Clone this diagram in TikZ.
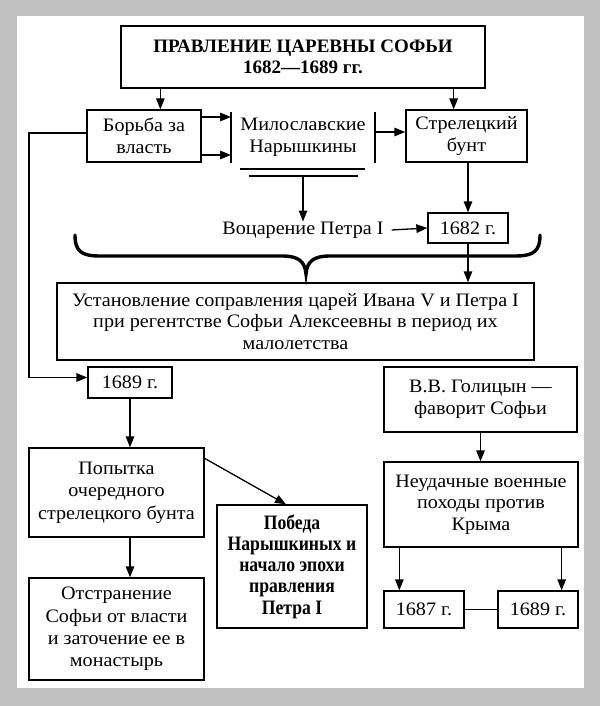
\documentclass[tikz,border=0pt]{standalone}
\usepackage{fontspec}
\setmainfont{Liberation Serif}[UprightFeatures={FakeStretch=1.06}]
\newfontfamily\condfam{Liberation Serif}[FakeStretch=0.86]
\usetikzlibrary{arrows.meta}
\definecolor{bgray}{RGB}{192,192,192}
\newcommand\fsz{\fontsize{19}{21.5}\selectfont}
\newcommand\fszb{\condfam\fontsize{20.5}{21.3}\selectfont\bfseries}
\tikzset{
  box/.style={draw, line width=1.3pt, align=center, inner sep=0pt, font=\fsz},
  plain/.style={align=center, inner sep=0pt, font=\fsz},
  arr/.style={line width=1.3pt, -{Triangle[length=11pt,width=8.5pt]}},
  ln/.style={line width=1.3pt},
  bracestyle/.style={line width=3.4pt, line cap=round},
}
\begin{document}
\begin{tikzpicture}[x=1pt,y=-1pt]
\fill[bgray] (0,0) rectangle (600,706);
\fill[white] (17,16) rectangle (584,688);
\useasboundingbox (0,0) rectangle (600,706);

\node[box, minimum width=364, minimum height=62, font=\fontsize{19}{21}\selectfont\bfseries] (title) at (303,57) {ПРАВЛЕНИЕ ЦАРЕВНЫ СОФЬИ\\1682---1689 гг.};
\node[box, minimum width=114, minimum height=52] (bor) at (144,136) {Борьба за\\власть};
\node[plain] (mil) at (303,137.5) {Милославские\\Нарышкины};
\node[box, minimum width=121, minimum height=52] (str) at (466.5,136) {Стрелецкий\\бунт};
\node[plain] (voc) at (303,230) {Воцарение Петра I};
\node[box, minimum width=80, minimum height=30] (y1682) at (468,228) {1682 г.};
\node[box, minimum width=477, minimum height=77] (main) at (295.5,321.5) {Установление соправления царей Ивана V и Петра I\\при регентстве Софьи Алексеевны в период их\\малолетства};
\node[box, minimum width=84, minimum height=31] (y1689a) at (130,382.5) {1689 г.};
\node[box, minimum width=193, minimum height=65] (gol) at (480.5,399.5) {В.В. Голицын ---\\фаворит Софьи};
\node[box, minimum width=175, minimum height=89, font=\fontsize{19}{22.5}\selectfont] (pop) at (116.5,492.5) {Попытка\\очередного\\стрелецкого бунта};
\node[box, minimum width=150, minimum height=123, font=\fszb] (pob) at (292,566.5) {Победа\\Нарышкиных и\\начало эпохи\\правления\\Петра I};
\node[box, minimum width=175, minimum height=102, font=\fontsize{19}{22.3}\selectfont] (otst) at (116.5,629) {Отстранение\\Софьи от власти\\и заточение ее в\\монастырь};
\node[box, minimum width=194, minimum height=85] (neud) at (481,504.5) {Неудачные военные\\походы против\\Крыма};
\node[box, minimum width=80, minimum height=37] (y1687) at (424,609.5) {1687 г.};
\node[box, minimum width=80, minimum height=37] (y1689b) at (538,609.5) {1689 г.};

% vertical bars and double lines around the factions
\coordinate (vl1) at (231,112);
\coordinate (vl2) at (231,163);
\coordinate (vr1) at (375,112);
\coordinate (vr2) at (375,163);
\draw[ln] (vl1) -- (vl2);
\draw[ln] (vr1) -- (vr2);
\coordinate (d1a) at (240,169);
\coordinate (d1b) at (365,169);
\coordinate (d2a) at (249,176);
\coordinate (d2b) at (358,176);
\draw[ln] (d1a) -- (d1b);
\draw[ln] (d2a) -- (d2b);
\coordinate (a1) at (231,117);
\coordinate (a2) at (231,155);
\draw[arr] (bor.east |- a1) -- (a1);
\draw[arr] (bor.east |- a2) -- (a2);
\coordinate (a3) at (375,132);
\draw[arr] (a3) -- (str.west |- a3);
\coordinate (dm) at (303,176);
\draw[arr] (dm) -- (voc.north);

% from title
\draw[arr] ([xshift=40pt]title.south west) coordinate (t1) -- (t1 |- bor.north);
\draw[arr] ([xshift=-32pt]title.south east) coordinate (t2) -- (t2 |- str.north);

\draw[arr] (str.south -| y1682) -- (y1682.north);
\draw[arr] ([xshift=8pt]voc.east) -- (y1682.west);
\draw[arr] (y1682.south) -- (y1682.south |- main.north);

% brace
\draw[bracestyle] (75,235) .. controls (75,251) and (81,256) .. (100,256) -- (282,256) .. controls (298,256) and (305,261) .. (306,274) .. controls (307,261) and (314,256) .. (330,256) -- (515,256) .. controls (534,256) and (540,251) .. (540,235);

% left line
\coordinate (lc) at (29,300);
\draw[arr] ([yshift=3pt]bor.west) -| (lc) |- ([yshift=5pt]y1689a.west);

\draw[arr] (y1689a.south) -- (y1689a.south |- pop.north);
\draw[arr] (y1689a.south |- pop.south) -- (y1689a.south |- otst.north);
\draw[arr] ([yshift=-11pt]pop.north east) -- ([xshift=-6pt]pob.north);

\draw[arr] (gol.south) -- (gol.south |- neud.north);
\draw[arr] ([xshift=16pt]y1687.north west) coordinate (b1) ++(0,0) (b1 |- neud.south) -- (b1);
\draw[arr] ([xshift=-17pt]y1689b.north east) coordinate (b2) ++(0,0) (b2 |- neud.south) -- (b2);
\draw[ln] (y1687.east) -- (y1689b.west);
\end{tikzpicture}
\end{document}
